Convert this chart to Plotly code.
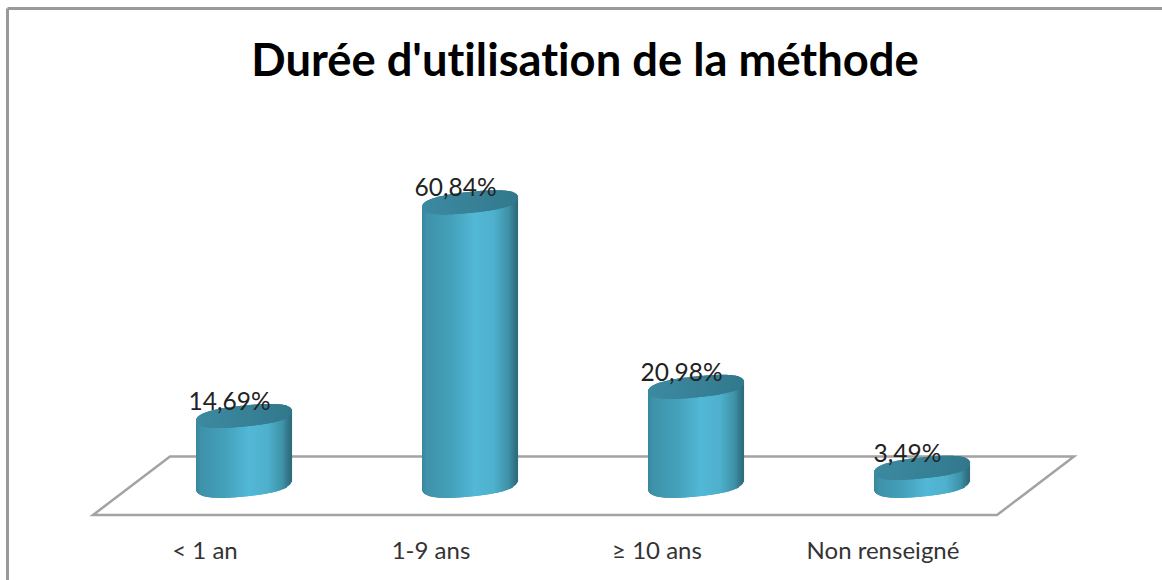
import numpy as np
import plotly.graph_objects as go

categories = ["< 1 an", "1-9 ans", "≥ 10 ans", "Non renseigné"]
values = [14.69, 60.84, 20.98, 3.49]
value_labels = ["14,69%", "60,84%", "20,98%", "3,49%"]
title_text = "Durée d'utilisation de la méthode"

W, H = 1162, 580
X0_PX, DX_PX = 244.5, 226.0      # cylinder 0 centre, spacing
Y0_PX, DY_PX = 484.0, 4.63       # value 0, px per unit
BOTTOM_PX = 534


def xd(px):
    return (px - X0_PX) / DX_PX


def yd(px):
    return (Y0_PX - px) / DY_PX


A = 47.5        # ellipse half width (px)
B_TOP = 10.5    # top ellipse half height (px)
B_BOTTOM = 12.5 # bottom ellipse half height (px)
TILT = 0.10     # right end higher
ROUND = 2.5     # superellipse exponent: blunter ends than a true ellipse
N = 96


def lerp_color(stops, t):
    ts = [s[0] for s in stops]
    rgb = [np.interp(t, ts, [s[1][k] for s in stops]) for k in range(3)]
    return "rgb(%d,%d,%d)" % tuple(int(round(c)) for c in rgb)


side_stops = [(0, (56, 134, 156)), (0.05, (62, 146, 170)), (0.3, (68, 160, 186)),
              (0.55, (82, 184, 214)), (0.75, (78, 176, 204)), (0.9, (62, 146, 168)),
              (1, (46, 106, 124))]
top_stops = [(0, (60, 138, 160)), (0.45, (56, 130, 152)), (1, (50, 120, 140))]

dxs = (np.arange(N) + 0.5) / N * 2 * A - A
ts = (dxs + A) / (2 * A)
root = (1 - np.abs(dxs / A) ** ROUND) ** (1 / ROUND)

side_x, side_base, side_h, side_c = [], [], [], []
top_x, top_base, top_h, top_c = [], [], [], []
for i, v in enumerate(values):
    for dx, t, r in zip(dxs, ts, root):
        # offsets in px (upwards positive), converted to data units
        side_low = TILT * dx - B_BOTTOM * r
        top_low = TILT * dx - B_TOP * r
        side_x.append(i + dx / DX_PX)
        side_base.append(side_low / DY_PX)
        side_h.append(v + (top_low - side_low) / DY_PX + 1 / DY_PX)
        side_c.append(lerp_color(side_stops, t))
        top_x.append(i + dx / DX_PX)
        top_base.append(v + top_low / DY_PX)
        top_h.append(2 * B_TOP * r / DY_PX)
        top_c.append(lerp_color(top_stops, t))

fig = go.Figure()
strip_w = 2 * A / N / DX_PX * 1.15
fig.add_trace(go.Bar(x=side_x, y=side_h, base=side_base, width=strip_w,
                     marker=dict(color=side_c, line=dict(width=0)), hoverinfo="skip"))
fig.add_trace(go.Bar(x=top_x, y=top_h, base=top_base, width=strip_w,
                     marker=dict(color=top_c, line=dict(width=0)), hoverinfo="skip"))
fig.add_trace(go.Scatter(
    x=[i - 15 / DX_PX for i in range(len(values))],
    y=[v + 12 / DY_PX for v in values],
    mode="text", text=value_labels, textposition="middle center",
    textfont=dict(family="Lato", size=24.5, color="#222222"), hoverinfo="skip"))

grey = "#a3a3a3"
floor = "M %f %f L %f %f L %f %f L %f %f Z" % (
    xd(170), yd(456.5), xd(1074), yd(456.5), xd(997), yd(515), xd(93), yd(515))
shapes = [
    dict(type="path", path=floor, xref="x", yref="y", layer="below",
         line=dict(color=grey, width=2.5)),
    dict(type="path", path="M %f %f L %f %f" % (xd(7.5), yd(8.5), xd(W), yd(8.5)),
         xref="x", yref="y", layer="below", line=dict(color="#999999", width=3)),
    dict(type="line", x0=7.5 / W, x1=7.5 / W, y0=-(H - BOTTOM_PX) / BOTTOM_PX,
         y1=1 - 8.5 / BOTTOM_PX, xref="paper", yref="paper", layer="below",
         line=dict(color="#999999", width=3)),
]

fig.update_layout(
    width=W, height=H, autosize=False,
    margin=dict(l=0, r=0, t=0, b=H - BOTTOM_PX, pad=0),
    paper_bgcolor="white", plot_bgcolor="white",
    barmode="overlay", showlegend=False, shapes=shapes,
    title=dict(text="<b>%s</b>" % title_text, x=585 / W, xanchor="center",
               y=1 - 60 / H, yanchor="middle",
               font=dict(family="Lato", size=45.3, color="#000000")),
    xaxis=dict(range=[xd(0), xd(W)], showgrid=False, zeroline=False, showline=False,
               tickmode="array", tickvals=[i - 39.5 / DX_PX for i in range(4)],
               ticktext=categories, ticks="", ticklen=0,
               tickfont=dict(family="Lato", size=24, color="#333333")),
    yaxis=dict(range=[yd(BOTTOM_PX), yd(0)], showgrid=False, zeroline=False,
               showline=False, showticklabels=False, ticks=""),
)

fig.write_html(
    "out.html",
    config={"displayModeBar": False},
    post_script="document.body.style.margin='0';"
                "document.body.style.letterSpacing='0.01px';"
                "document.documentElement.style.overflow='hidden';",
)
